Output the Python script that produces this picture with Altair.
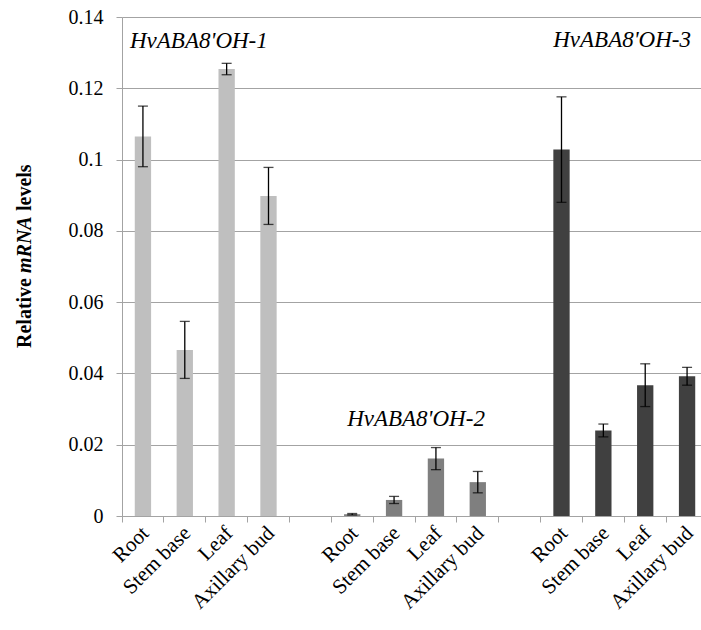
import altair as alt
import pandas as pd

tissues = ["Root", "Stem base", "Leaf", "Axillary bud"]
genes = ["HvABA8'OH-1", "HvABA8'OH-2", "HvABA8'OH-3"]
means1 = [0.1065, 0.0466, 0.1254, 0.0898]
errs1 = [0.0085, 0.0080, 0.0016, 0.0080]
means2 = [0.0005, 0.0045, 0.0161, 0.0095]
errs2 = [0.0002, 0.0010, 0.0031, 0.0030]
means3 = [0.1028, 0.0240, 0.0367, 0.0392]
errs3 = [0.0148, 0.0018, 0.0060, 0.0025]
colors = ["#BFBFBF", "#7F7F7F", "#404040"]
y_ticks = [0, 0.02, 0.04, 0.06, 0.08, 0.1, 0.12, 0.14]

FONT = "Liberation Serif"
GRID = "#A3A3A3"

slots = []
rows = []
for gi, (gene, means, errs) in enumerate(zip(genes, [means1, means2, means3], [errs1, errs2, errs3])):
    if gi > 0:
        slots.append(f"gap{gi}|")
    for t, m, e in zip(tissues, means, errs):
        sid = f"{gi + 1}|{t}"
        slots.append(sid)
        rows.append({"slot": sid, "gene": gene, "mean": m, "lo": m - e, "hi": m + e})
df = pd.DataFrame(rows)

xscale = alt.Scale(domain=slots, range=[0, 586], paddingInner=0, paddingOuter=0)
yscale = alt.Scale(domain=[0, 0.14], nice=False)

x_axis = alt.Axis(
    bandPosition=0, labelExpr="split(datum.value, '|')[1]", labelAngle=-45,
    labelAlign="right", labelBaseline="top", labelOffset=-5, labelPadding=0,
    tickSize=6, tickColor=GRID, domainColor=GRID, labelFont=FONT, labelFontSize=21,
    labelColor="#000000", grid=False, labelOverlap=False, title=None,
)
y_axis = alt.Axis(
    values=y_ticks, format="~g", grid=True, gridColor=GRID, domainColor=GRID,
    tickColor=GRID, tickSize=6, labelPadding=13, labelFont=FONT, labelFontSize=20,
    labelColor="#000000", title=None,
)

base = alt.Chart(df)
bars = base.mark_bar(width=alt.RelativeBandSize(0.39)).encode(
    x=alt.X("slot:N", scale=xscale, axis=x_axis),
    y=alt.Y("mean:Q", scale=yscale, axis=y_axis),
    color=alt.Color("gene:N", scale=alt.Scale(domain=genes, range=colors), legend=None),
)
rules = base.mark_rule(color="#000000", strokeWidth=1.3).encode(
    x=alt.X("slot:N", scale=xscale), y=alt.Y("lo:Q", scale=yscale), y2="hi:Q"
)
cap_lo = base.mark_tick(color="#000000", thickness=1.3, size=10).encode(
    x=alt.X("slot:N", scale=xscale), y=alt.Y("lo:Q", scale=yscale)
)
cap_hi = base.mark_tick(color="#000000", thickness=1.3, size=10).encode(
    x=alt.X("slot:N", scale=xscale), y=alt.Y("hi:Q", scale=yscale)
)

def gene_label(text, slot, yv, align, dx, band):
    d = pd.DataFrame({"slot": [slot], "label": [text], "yv": [yv]})
    return alt.Chart(d).mark_text(
        font=FONT, fontSize=23, fontStyle="italic", align=align, baseline="middle",
        dx=dx, color="#000000",
    ).encode(
        x=alt.X("slot:N", scale=xscale, bandPosition=band),
        y=alt.Y("yv:Q", scale=yscale),
        text="label:N",
    )

lab1 = gene_label(genes[0], "1|Root", 0.1332, "left", 8, 0)
lab2 = gene_label(genes[1], "2|Leaf", 0.0273, "center", 1, 0)
lab3 = gene_label(genes[2], "3|Axillary bud", 0.1335, "right", -17, 1)

one = alt.Data(values=[{}])
def title_part(text, ypix, style):
    return alt.Chart(one).mark_text(
        font=FONT, fontSize=20, fontWeight="bold", fontStyle=style, angle=270,
        align="left", baseline="middle", color="#000000",
    ).encode(x=alt.value(-97), y=alt.value(ypix), text=alt.value(text))

t1 = title_part("Relative", 331, "normal")
t2 = title_part("mRNA", 256, "italic")
t3 = title_part("levels", 194, "normal")

chart = alt.layer(bars, rules, cap_lo, cap_hi, lab1, lab2, lab3, t1, t2, t3).properties(
    width=579, height=499, autosize="none",
    padding={"left": 122, "top": 17, "right": 0, "bottom": 114},
).configure_view(stroke=None)

chart.save("out.html", embed_options={"renderer": "svg", "actions": False})
